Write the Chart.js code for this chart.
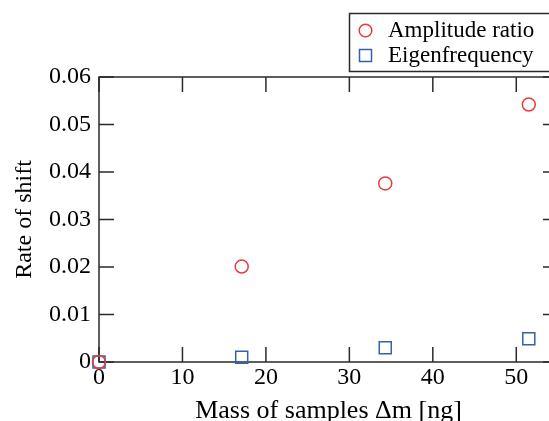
<!DOCTYPE html>
<html><head><meta charset="utf-8">
<style>
html,body{margin:0;padding:0;background:#fff;overflow:hidden;width:549px;height:421px}
canvas{display:block}
</style>
<script src="https://cdn.jsdelivr.net/npm/chart.js@4.4.1/dist/chart.umd.min.js"></script>
</head><body>
<canvas id="c" width="600" height="421" style="width:600px;height:421px"></canvas>
<script>
const seriesNames = ['Amplitude ratio', 'Eigenfrequency'];
const massNg = [0, 17.1, 34.3, 51.5];
const amplitudeRatio = [0, 0.0201, 0.0376, 0.0542];
const eigenfrequency = [0, 0.0010, 0.0030, 0.0049];
const xTickLabels = ['0', '10', '20', '30', '40', '50'];
const yTickLabels = ['0', '0.01', '0.02', '0.03', '0.04', '0.05', '0.06'];
const xTitle = 'Mass of samples \u0394m [ng]';
const yTitle = 'Rate of shift';

const RED = 'rgb(232,58,58)';
const BLUE = 'rgb(52,96,178)';
const AXIS = '#2a2a2a';
const TEXT = '#000';
const FONT = "'Liberation Serif', 'Times New Roman', serif";

const toPoints = (xs, ys) => xs.map((x, i) => ({x: x, y: ys[i]}));

const framePlugin = {
  id: 'frame',
  beforeDatasetsDraw(chart) {
    const {ctx, chartArea: a, scales: {x, y}} = chart;
    const L = 15;
    ctx.save();
    ctx.strokeStyle = AXIS;
    ctx.lineWidth = 1.5;
    ctx.strokeRect(a.left, a.top, a.right - a.left, a.bottom - a.top);
    ctx.beginPath();
    x.ticks.forEach(t => {
      const px = x.getPixelForValue(t.value);
      ctx.moveTo(px, a.bottom); ctx.lineTo(px, a.bottom - L);
      ctx.moveTo(px, a.top); ctx.lineTo(px, a.top + L);
    });
    y.ticks.forEach(t => {
      const py = y.getPixelForValue(t.value);
      ctx.moveTo(a.left, py); ctx.lineTo(a.left + L, py);
      ctx.moveTo(a.right, py); ctx.lineTo(a.right - L, py);
    });
    ctx.stroke();
    ctx.restore();
  }
};

const legendPlugin = {
  id: 'boxLegend',
  afterDraw(chart) {
    const {ctx} = chart;
    ctx.save();
    ctx.fillStyle = '#fff';
    ctx.fillRect(349.5, 13.5, 300, 58);
    ctx.strokeStyle = AXIS;
    ctx.lineWidth = 1.5;
    ctx.strokeRect(349.5, 13.5, 300, 58);
    const rows = [30.5, 55.5];
    chart.data.datasets.forEach((ds, i) => {
      const cy = rows[i];
      ctx.strokeStyle = ds.borderColor;
      ctx.lineWidth = 1.5;
      ctx.beginPath();
      if (ds.pointStyle === 'circle') {
        ctx.arc(365.5, cy, 6.3, 0, Math.PI * 2);
      } else {
        ctx.rect(359.5, cy - 6, 12, 12);
      }
      ctx.stroke();
      ctx.fillStyle = TEXT;
      ctx.font = '23px ' + FONT;
      ctx.textBaseline = 'middle';
      ctx.textAlign = 'left';
      ctx.fillText(ds.label, 388, cy);
    });
    ctx.restore();
  }
};

new Chart(document.getElementById('c'), {
  type: 'scatter',
  data: {
    datasets: [
      {
        label: seriesNames[0],
        data: toPoints(massNg, amplitudeRatio),
        pointStyle: 'circle',
        pointRadius: 6.5,
        pointHoverRadius: 6.5,
        borderColor: RED,
        backgroundColor: 'rgba(0,0,0,0)',
        borderWidth: 1.5,
        clip: false
      },
      {
        label: seriesNames[1],
        data: toPoints(massNg, eigenfrequency),
        pointStyle: 'rect',
        pointRadius: 8.5,
        pointHoverRadius: 8.5,
        borderColor: BLUE,
        backgroundColor: 'rgba(0,0,0,0)',
        borderWidth: 1.5,
        clip: false
      }
    ]
  },
  options: {
    responsive: false,
    animation: false,
    events: [],
    layout: {padding: {top: 77, right: 42, left: 0, bottom: 0}},
    plugins: {legend: {display: false}, tooltip: {enabled: false}},
    scales: {
      x: {
        type: 'linear',
        min: 0, max: 55,
        grid: {display: false, drawTicks: false},
        border: {display: false},
        ticks: {
          stepSize: 10,
          includeBounds: false,
          padding: 1,
          color: TEXT,
          font: {family: FONT, size: 24},
          maxRotation: 0,
          callback: (v) => xTickLabels[Math.round(v / 10)] ?? ''
        },
        title: {
          display: true, text: xTitle, color: TEXT,
          font: {family: FONT, size: 26, lineHeight: 0.75},
          padding: {top: 0, bottom: 0}
        },
        afterFit: (s) => { s.height = 59; }
      },
      y: {
        type: 'linear',
        min: 0, max: 0.06,
        grid: {display: false, drawTicks: false},
        border: {display: false},
        ticks: {
          stepSize: 0.01,
          padding: 8,
          color: TEXT,
          font: {family: FONT, size: 24},
          callback: (v) => yTickLabels[Math.round(v / 0.01)] ?? ''
        },
        title: {
          display: true, text: yTitle, color: TEXT,
          font: {family: FONT, size: 24, lineHeight: 1.2},
          padding: {top: 10, bottom: 0}
        },
        afterFit: (s) => { s.width = 99; }
      }
    }
  },
  plugins: [framePlugin, legendPlugin]
});
</script>
</body></html>
